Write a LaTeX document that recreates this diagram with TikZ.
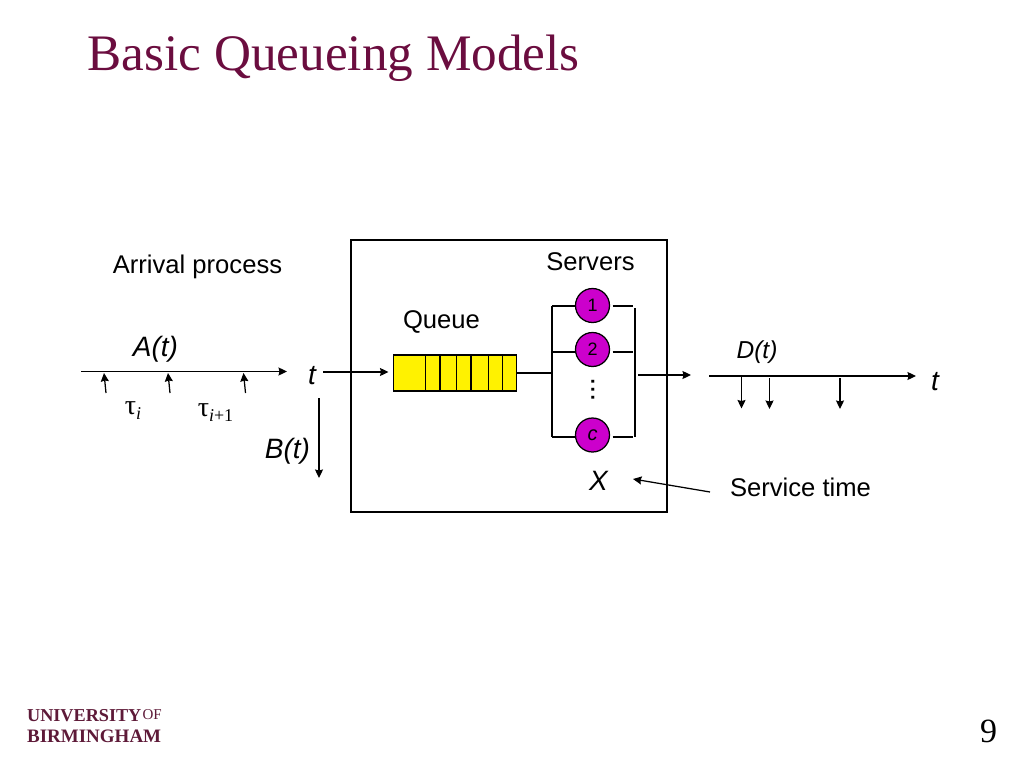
\documentclass[tikz,border=0pt]{standalone}
\usepackage{fontspec}
\setmainfont{Liberation Sans}
\newfontfamily\serifface{Liberation Serif}
\usetikzlibrary{arrows.meta,positioning}
\definecolor{titlered}{HTML}{6B0D3F}
\definecolor{logored}{HTML}{5E1A38}
\definecolor{serverpink}{HTML}{CC00CC}
\newcommand{\sizedto}[1]{\fontsize{#1}{#1}\selectfont}
\newcommand{\tauterm}[1]{{\serifface\sizedto{28}τ\raisebox{-5pt}{\sizedto{18}#1}}}
\tikzset{
  label text/.style={inner sep=0pt,font=\sizedto{25.6}},
  var text/.style={inner sep=0pt,font=\sizedto{28}\itshape},
  server/.style={circle,draw,fill=serverpink,minimum size=34pt,inner sep=0pt,font=\sizedto{18}},
  logo text/.style={inner sep=0pt,anchor=west,text=logored,font=\serifface\bfseries\sizedto{#1}},
  tick/.style={->},
}

\begin{document}
\begin{tikzpicture}[x=1pt,y=-1pt,>={Stealth[length=8.5pt,width=8pt,inset=1pt]},line width=1.25pt]
        \useasboundingbox (0,0) rectangle (1024,768);

        % heading and footer
        \node[inner sep=0pt,anchor=west,text=titlered,font=\serifface\sizedto{51.2}] (title) at (87,58) {Basic Queueing Models};
        \node[logo text=18.2] (logoa) at (26.5,716) {UNIVERSITY};
        \node[inner sep=0pt,anchor=west,text=logored,font=\serifface\sizedto{15}] (logoof) at (142,715) {OF};
        \node[logo text=19] (logob) at (26.5,736) {BIRMINGHAM};
        \node[inner sep=0pt,font=\serifface\sizedto{34}] (pagenum) at (988.5,731) {9};

        % system box
        \node[draw,minimum width=316pt,minimum height=272pt,inner sep=0pt] (system) at (509,376) {};

        % texts
        \node[label text] (arrival) at (197.5,267) {Arrival process};
        \node[label text] (servers) at (590.5,262) {Servers};
        \node[label text] (queuetext) at (441.5,322) {Queue};
        \node[label text] (service) at (800.5,487) {Service time};
        \node[var text] (at) at (155.5,349) {A(t)};
        \node[var text] (tin) at (312,376) {t};
        \node[var text] (bt) at (287.5,451) {B(t)};
        \node[var text,font=\sizedto{24.5}\itshape] (dt) at (757,352) {D(t)};
        \node[var text] (tout) at (935,382) {t};
        \node[var text] (x) at (598.5,481) {X};
        \node[inner sep=0pt] (taui) at (133,411) {\tauterm{\itshape i}};
        \node[inner sep=0pt] (tauj) at (215.5,413) {\tauterm{{\itshape i}+1}};

        % queue
        \node[draw,fill=yellow,minimum width=123pt,minimum height=36pt,inner sep=0pt] (queue) at (455,373) {};
        \draw (425.5,355) -- (425.5,391);
        \draw (440,355) -- (440,391);
        \draw (456.5,355) -- (456.5,391);
        \draw (471,355) -- (471,391);
        \draw (488.5,355) -- (488.5,391);
        \draw (502.5,355) -- (502.5,391);

        % servers
        \node[server] (s1) at (592.5,305.5) {1};
        \node[server] (s2) at (592.5,349.5) {2};
        \node[server] (sc) at (592.5,435) {\sizedto{20}\itshape c};
        \node[inner sep=0pt,rotate=90,font=\sizedto{20}\bfseries] (dots) at (593,390) {.\kern2.5pt.\kern2.5pt.};

        \coordinate (lt) at (552,306);
        \coordinate (lm) at (552,352);
        \coordinate (lq) at (552,373);
        \coordinate (lb) at (552,437);
        \coordinate (rt) at (635,308);
        \coordinate (rb) at (635,437);
        \coordinate (r1) at (633,306);
        \coordinate (r2) at (633,352);
        \coordinate (r3) at (633,437);

        \draw (lt) -- (lb);
        \draw (rt) -- (rb);
        \path (queue) edge (lq);
        \draw (lt) -- (lt -| s1.west);
        \draw (lm) -- (lm -| s2.west);
        \draw (lb) -- (lb -| sc.west);
        \draw[shorten <=2.5pt] (r1 -| s1.east) -- (r1);
        \draw[shorten <=2.5pt] (r2 -| s2.east) -- (r2);
        \draw[shorten <=2.5pt] (r3 -| sc.east) -- (r3);

        % arrival axis
        \coordinate (aa) at (81,371.5);
        \coordinate (ab) at (287,371.5);
        \coordinate (a1) at (106,393);
        \coordinate (a1t) at (104,373);
        \coordinate (a2) at (170,393);
        \coordinate (a2t) at (168,373);
        \coordinate (a3) at (245.5,393);
        \coordinate (a3t) at (243.5,373);
        \path[->] (aa) edge (ab);
        \path[tick] (a1) edge (a1t);
        \path[tick] (a2) edge (a2t);
        \path[tick] (a3) edge (a3t);

        % flows through the box
        \coordinate (ina) at (323,372);
        \coordinate (inb) at (388.5,372);
        \coordinate (ba) at (319,398);
        \coordinate (bb) at (319,478);
        \coordinate (outa) at (638,375);
        \coordinate (outb) at (691,375);
        \path[->] (ina) edge (inb);
        \path[->] (ba) edge (bb);
        \path[->] (outa) edge (outb);

        % departure axis
        \coordinate (da) at (709,376);
        \coordinate (db) at (916,376);
        \coordinate (d1) at (741.5,377);
        \coordinate (d1b) at (741.5,408.5);
        \coordinate (d2) at (769.5,378);
        \coordinate (d2b) at (769.5,409);
        \coordinate (d3) at (840,378);
        \coordinate (d3b) at (840,409);
        \path[->] (da) edge (db);
        \path[tick] (d1) edge (d1b);
        \path[tick] (d2) edge (d2b);
        \path[tick] (d3) edge (d3b);

        % service time pointer
        \coordinate (sa) at (710,492);
        \coordinate (sb) at (633,479);
        \path[->] (sa) edge (sb);
      \end{tikzpicture}
\end{document}
